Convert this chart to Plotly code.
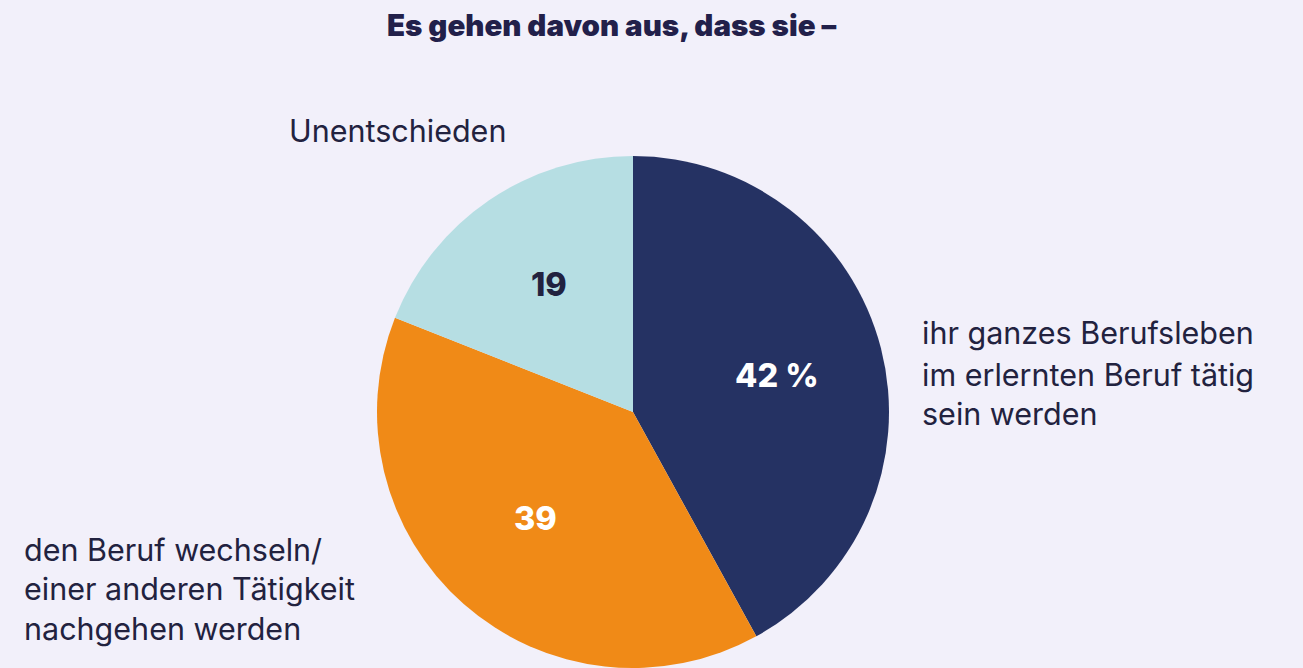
import plotly.graph_objects as go

categories = ["ihr ganzes Berufsleben im erlernten Beruf tätig sein werden",
              "den Beruf wechseln/ einer anderen Tätigkeit nachgehen werden",
              "Unentschieden"]
values = [42, 39, 19]
value_labels = ["42 %", "39", "19"]
colors = ["#253263", "#F08A17", "#B6DEE3"]
label_colors = ["#FFFFFF", "#FFFFFF", "#22223F"]

W, H = 1303, 668
cx, r = 633, 256

fig = go.Figure(go.Pie(
    values=values, labels=categories, sort=False, direction="clockwise",
    rotation=0, marker=dict(colors=colors, line=dict(width=0)),
    textinfo="none", hoverinfo="label+value", showlegend=False,
    domain=dict(x=[(cx - r) / W, (cx + r) / W], y=[0, 2 * r / H]),
))

ann = []
# inside value labels
pos_in = [(777, 375), (535, 518), (549, 284)]
for (x, y), t, c in zip(pos_in, value_labels, label_colors):
    ann.append(dict(x=x / W, y=1 - y / H, xref="paper", yref="paper", text=t,
                    showarrow=False, xanchor="center", yanchor="middle",
                    font=dict(family="Inter", size=32.5, color=c, weight=800)))

# outside category labels, one line each
lines = [
    (["ihr ganzes Berufsleben", "im erlernten Beruf tätig", "sein werden"], 920, [332, 374, 414]),
    (["den Beruf wechseln/", "einer anderen Tätigkeit", "nachgehen werden"], 22, [549, 588, 628]),
    (["Unentschieden"], 287, [130]),
]
for texts, x0, ys in lines:
    for t, y in zip(texts, ys):
        ann.append(dict(x=x0 / W, y=1 - y / H, xref="paper", yref="paper", text=t,
                        showarrow=False, xanchor="left", yanchor="middle",
                        font=dict(family="Inter", size=30.5, color="#22223F")))

ann.append(dict(x=611 / W, y=1 - 25 / H, xref="paper", yref="paper",
                text="Es gehen davon aus, dass sie –", showarrow=False,
                xanchor="center", yanchor="middle",
                font=dict(family="Inter", size=29.5, color="#22204A", weight=900)))

fig.update_layout(
    width=W, height=H, margin=dict(l=0, r=0, t=0, b=0),
    paper_bgcolor="#F2F0FA", plot_bgcolor="#F2F0FA",
    annotations=ann,
)
fig.write_html("out.html", config={"displayModeBar": False},
               post_script="document.body.style.margin='0';document.body.style.overflow='hidden';")
